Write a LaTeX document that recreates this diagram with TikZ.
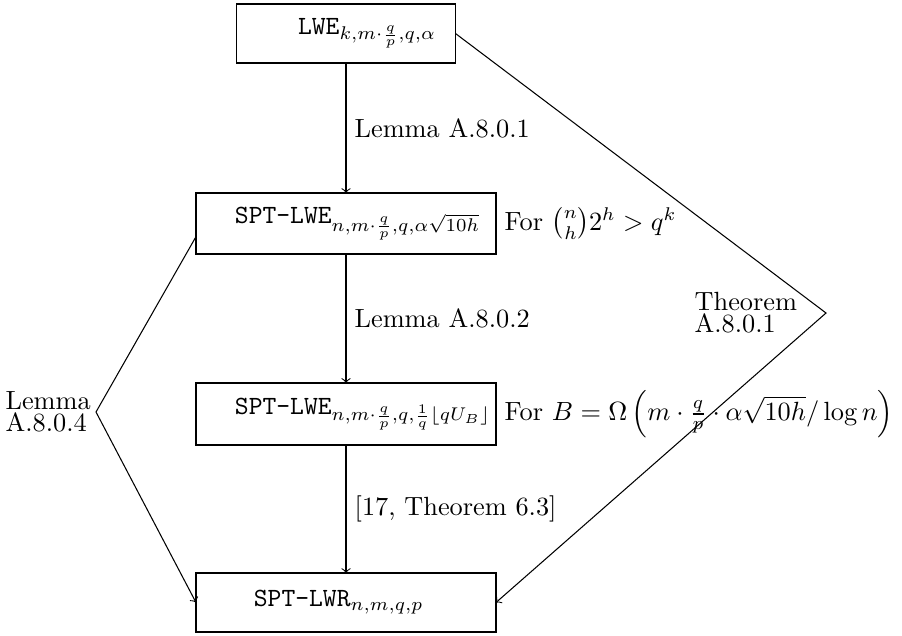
\documentclass[tikz,border=0pt]{standalone}
\usepackage{amsmath}

\begin{document}
\begin{tikzpicture}[inner sep=0pt,outer sep=0pt,x=0.38pt,y=-0.38pt,
sysblock/.style={draw,rectangle,semithick,text width=114pt,align=left,minimum height=23.2pt},
sidelabel/.style={align=left,font=\linespread{0.6}\selectfont}]
\useasboundingbox (0,0) rectangle (902,635);

\draw (346,33.5) node[sysblock,text width=83.2pt,minimum height=22.4pt] (lwe) {\hspace*{23.4pt}\texttt{LWE}$_{k,m\cdot\frac{q}{p},q,\alpha}$};
\draw (346,223.5) node[sysblock] (spt1) {\hspace*{14.8pt}\texttt{SPT-LWE}$_{n,m\cdot\frac{q}{p},q,\alpha\sqrt{10h}}$};
\draw (346,414) node[sysblock,minimum height=23.6pt] (spt2) {\hspace*{14.8pt}\texttt{SPT-LWE}$_{n,m\cdot\frac{q}{p},q,\frac{1}{q}\lfloor qU_B\rfloor}$};
\draw (346,602.5) node[sysblock,minimum height=22.4pt] (lwr) {\hspace*{22pt}\texttt{SPT-LWR}$_{n,m,q,p}$};

% conditions next to the boxes
\node[right=3.3pt] (cond1) at (spt1.east) {For $\binom{n}{h}2^h > q^k$};
\node[right=3.3pt] (cond2) at (spt2.east) {For $B = \Omega\left(m\cdot\frac{q}{p}\cdot\alpha\sqrt{10h}/\log n\right)$};

% main chain
\draw[->] (lwe.south) -- (spt1.north) node[midway,right=3.3pt] {Lemma A.8.0.1};
\draw[->] (spt1.south) -- (spt2.north) node[midway,right=3.3pt] {Lemma A.8.0.2};
\draw[->] (spt2.south) -- (lwr.north) node[midway,right=3.3pt] {[17, Theorem 6.3]};

% shortcuts
\coordinate (rv) at (826,313);
\coordinate (lv) at (96,412);
\draw[->] (lwe.east) -- (rv) -- (lwr.east);
\node[sidelabel,left=11pt] (thm) at (rv) {Theorem\\A.8.0.1};
\draw[->] ([yshift=-5pt]spt1.west) -- (lv) -- (lwr.west);
\node[sidelabel,left=2pt] (lem) at (lv) {Lemma\\A.8.0.4};
\end{tikzpicture}
\end{document}
